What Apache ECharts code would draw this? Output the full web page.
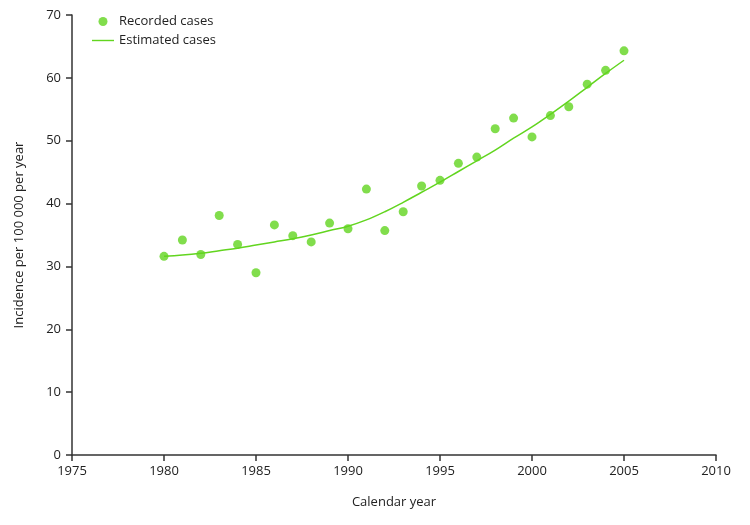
<!DOCTYPE html>
<html>
<head>
<meta charset="utf-8">
<script src="https://cdn.jsdelivr.net/npm/echarts@6/dist/echarts.min.js"></script>
<style>
  html, body { margin: 0; padding: 0; background: #fff; }
  #chart { width: 750px; height: 525px; }
</style>
</head>
<body>
<div id="chart"></div>
<script>
  // 年份
  var years = [1980, 1981, 1982, 1983, 1984, 1985, 1986, 1987, 1988, 1989, 1990, 1991, 1992,
    1993, 1994, 1995, 1996, 1997, 1998, 1999, 2000, 2001, 2002, 2003, 2004, 2005]
  // 记录病例
  var recorded = [31.6, 34.2, 31.9, 38.1, 33.5, 29.0, 36.6, 34.9, 33.9, 36.9, 36.0, 42.3, 35.7,
    38.7, 42.8, 43.7, 46.4, 47.4, 51.9, 53.6, 50.6, 54.0, 55.4, 59.0, 61.2, 64.3]
  // 估计病例
  var estimated = [31.6, 31.8, 32.1, 32.5, 32.9, 33.4, 33.9, 34.4, 35.0, 35.7, 36.4, 37.4, 38.7,
    40.2, 41.8, 43.4, 45.1, 46.8, 48.5, 50.4, 52.2, 54.2, 56.3, 58.5, 60.7, 62.8]

  var green = '#62d51f'
  var font = 'Open Sans'
  var axisColor = '#333'
  var textColor = '#222'

  var chart = echarts.init(document.getElementById('chart'))
  var option = {
    animation: false,
    textStyle: { fontFamily: font },
    grid: { left: 72, right: 34, top: 15, bottom: 70 },
    legend: {
      orient: 'vertical',
      left: 87,
      top: 10,
      itemGap: 6,
      itemWidth: 22,
      itemHeight: 9,
      symbolKeepAspect: true,
      textStyle: { fontSize: 13, color: textColor, fontFamily: font, padding: [0, 0, 0, 0] },
      data: [
        { name: 'Recorded cases', icon: 'circle', itemStyle: { color: green } },
        { name: 'Estimated cases', icon: 'path://M0,0 L22,0 L22,1.4 L0,1.4 Z', itemStyle: { color: green } }
      ]
    },
    xAxis: {
      type: 'value',
      min: 1975,
      max: 2010,
      interval: 5,
      name: 'Calendar year',
      nameLocation: 'middle',
      nameGap: 41,
      nameTextStyle: { fontSize: 13, color: textColor },
      axisLine: { lineStyle: { color: axisColor, width: 1.5 } },
      axisTick: { length: 6, lineStyle: { color: axisColor, width: 1.5 } },
      axisLabel: {
        fontSize: 13, color: textColor, margin: 10,
        formatter: function (v) { return String(v) }
      },
      splitLine: { show: false }
    },
    yAxis: {
      type: 'value',
      min: 0,
      max: 70,
      interval: 10,
      name: 'Incidence per 100 000 per year',
      nameLocation: 'middle',
      nameGap: 46,
      nameTextStyle: { fontSize: 13, color: textColor },
      axisLine: { show: true, lineStyle: { color: axisColor, width: 1.5 } },
      axisTick: { show: true, length: 6, lineStyle: { color: axisColor, width: 1.5 } },
      axisLabel: { fontSize: 13, color: textColor, margin: 11 },
      splitLine: { show: false }
    },
    series: [
      {
        name: 'Recorded cases',
        type: 'scatter',
        symbol: 'circle',
        symbolSize: 9,
        itemStyle: { color: green },
        data: years.map(function (y, i) { return [y, recorded[i]] })
      },
      {
        name: 'Estimated cases',
        type: 'line',
        smooth: 0.4,
        showSymbol: false,
        symbol: 'none',
        lineStyle: { color: green, width: 1.5 },
        itemStyle: { color: green },
        data: years.map(function (y, i) { return [y, estimated[i]] })
      }
    ]
  }
  chart.setOption(option)
</script>
</body>
</html>
